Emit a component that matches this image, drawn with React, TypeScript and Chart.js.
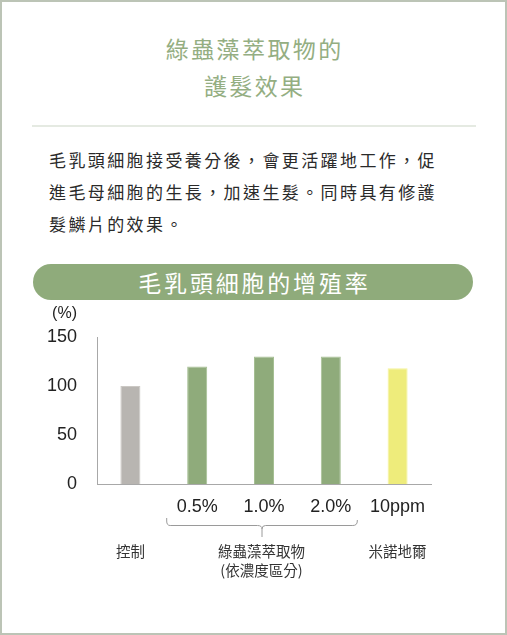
import React, { useEffect, useRef } from 'react';
import { Chart, registerables } from 'chart.js';

Chart.register(...registerables);

const categories = ['控制', '0.5%', '1.0%', '2.0%', '10ppm'];
const tickLabels = ['', '0.5%', '1.0%', '2.0%', '10ppm'];
const values = [100, 120, 130, 130, 118];
const barColors = ['#b8b5b1', '#8fab7b', '#8fab7b', '#8fab7b', '#eeec7b'];
const barBorders = ['#cbc8c4', '#a6bf94', '#a6bf94', '#a6bf94', '#f5f39c'];
const yMin = 0;
const yMax = 150;
const yStep = 50;
const groupLabels = [['控制'], ['綠蟲藻萃取物', '(依濃度區分)'], ['米諾地爾']];
const groupStart = [0, 1, 4];
const groupEnd = [0, 3, 4];
const yUnit = '(%)';

const CJK = '"Noto Sans CJK TC", "Noto Sans CJK SC", sans-serif';
const LATIN = '"Liberation Sans", Arial, sans-serif';

const overlayPlugin = {
  id: 'overlay',
  afterDraw(chart: any) {
    const ctx = chart.ctx;
    const xs = chart.scales.x;
    const area = chart.chartArea;
    ctx.save();
    // unit label
    ctx.font = `16px ${LATIN}`;
    ctx.fillStyle = '#222';
    ctx.textAlign = 'right';
    ctx.textBaseline = 'middle';
    ctx.fillText(yUnit, area.left - 20, area.top - 23);

    const bottom = area.bottom;
    // groups
    for (let g = 0; g < groupLabels.length; g++) {
      const s = groupStart[g];
      const e = groupEnd[g];
      let cx: number;
      if (s !== e) {
        const left = xs.getPixelForValue(s) - 31;
        const right = xs.getPixelForValue(e) + 26;
        const mid = (left + right) / 2;
        const yTop = bottom + 34;
        const yMid = bottom + 41;
        const yTip = bottom + 53;
        const r = 4;
        ctx.strokeStyle = '#9a9a9a';
        ctx.lineWidth = 1;
        ctx.beginPath();
        ctx.moveTo(left + 0.5, yTop);
        ctx.lineTo(left + 0.5, yMid - r);
        ctx.quadraticCurveTo(left + 0.5, yMid + 0.5, left + r, yMid + 0.5);
        ctx.lineTo(mid - r, yMid + 0.5);
        ctx.quadraticCurveTo(mid + 0.5, yMid + 0.5, mid + 0.5, yMid + r);
        ctx.lineTo(mid + 0.5, yTip);
        ctx.moveTo(mid + 0.5, yMid + r);
        ctx.quadraticCurveTo(mid + 0.5, yMid + 0.5, mid + r, yMid + 0.5);
        ctx.lineTo(right - r, yMid + 0.5);
        ctx.quadraticCurveTo(right + 0.5, yMid + 0.5, right + 0.5, yMid - r);
        ctx.lineTo(right + 0.5, yTop + 2);
        ctx.stroke();
        cx = mid;
      } else {
        cx = xs.getPixelForValue(s);
      }
      ctx.font = `14.5px ${CJK}`;
      ctx.fillStyle = '#333';
      ctx.textAlign = 'center';
      ctx.textBaseline = 'middle';
      groupLabels[g].forEach((t, i) => {
        ctx.fillText(t, cx, bottom + 67 + i * 19);
      });
    }
    ctx.restore();
  },
};

function BarChart() {
  const ref = useRef<HTMLCanvasElement>(null);
  useEffect(() => {
    if (!ref.current) return;
    const chart = new Chart(ref.current, {
      type: 'bar',
      data: {
        labels: categories,
        datasets: [
          {
            data: values,
            backgroundColor: barColors,
            borderColor: barBorders,
            borderWidth: 1,
            barPercentage: 0.6,
            categoryPercentage: 0.5,
          },
        ],
      },
      options: {
        animation: false,
        responsive: false,
        layout: { padding: { top: 37, right: 76, left: 0, bottom: 0 } },
        plugins: { legend: { display: false }, tooltip: { enabled: false } },
        scales: {
          x: {
            grid: { display: false, drawTicks: false },
            border: { display: true, color: '#a8a8a8', width: 1 },
            ticks: {
              padding: 12,
              color: '#222',
              font: { family: LATIN, size: 18 },
              callback: (_v: any, i: number) => tickLabels[i],
              maxRotation: 0,
              autoSkip: false,
            },
            afterFit: (s: any) => {
              s.height = 116;
            },
          },
          y: {
            min: yMin,
            max: yMax,
            grid: { display: false, drawTicks: false },
            border: { display: true, color: '#a8a8a8', width: 1 },
            ticks: {
              stepSize: yStep,
              padding: 20,
              color: '#222',
              font: { family: LATIN, size: 18 },
            },
            afterFit: (s: any) => {
              s.width = 97;
            },
          },
        },
      },
      plugins: [overlayPlugin],
    });
    return () => chart.destroy();
  }, []);
  return (
    <canvas
      ref={ref}
      width={507}
      height={300}
      style={{ position: 'absolute', left: 0, top: 300, width: 507, height: 300 }}
    />
  );
}

export default function App() {
  const green = '#8fab7b';
  return (
    <div
      style={{
        position: 'fixed',
        left: 0,
        top: 0,
        width: 507,
        height: 635,
        boxSizing: 'border-box',
        border: '2px solid #bcc4b6',
        background: '#fff',
        fontFamily: CJK,
      }}
    >
      <div
        style={{
          position: 'absolute',
          left: -2,
          top: 28,
          width: 507,
          textAlign: 'center',
          color: '#94ae82',
          fontSize: 23,
          lineHeight: '37px',
          letterSpacing: 2.4,
          paddingLeft: 2.4,
          boxSizing: 'border-box',
        }}
      >
        綠蟲藻萃取物的
        <br />
        護髮效果
      </div>
      <div
        style={{
          position: 'absolute',
          left: 30,
          top: 123,
          width: 444,
          height: 2,
          background: '#e5eae2',
        }}
      />
      <div
        style={{
          position: 'absolute',
          left: 47,
          top: 142,
          color: '#2a2a2a',
          fontSize: 17,
          lineHeight: '32px',
          letterSpacing: 2.4,
          whiteSpace: 'nowrap',
        }}
      >
        毛乳頭細胞接受養分後，會更活躍地工作，促
        <br />
        進毛母細胞的生長，加速生髮。同時具有修護
        <br />
        髮鱗片的效果。
      </div>
      <div
        style={{
          position: 'absolute',
          left: 31,
          top: 262,
          width: 440,
          height: 36,
          borderRadius: 18,
          background: green,
          color: '#fff',
          fontSize: 23,
          lineHeight: '36px',
          textAlign: 'center',
          letterSpacing: 2.8,
          paddingLeft: 2.8,
          boxSizing: 'border-box',
        }}
      >
        毛乳頭細胞的增殖率
      </div>
      <div style={{ position: 'absolute', left: -2, top: -2, width: 507, height: 635 }}>
        <BarChart />
      </div>
    </div>
  );
}
